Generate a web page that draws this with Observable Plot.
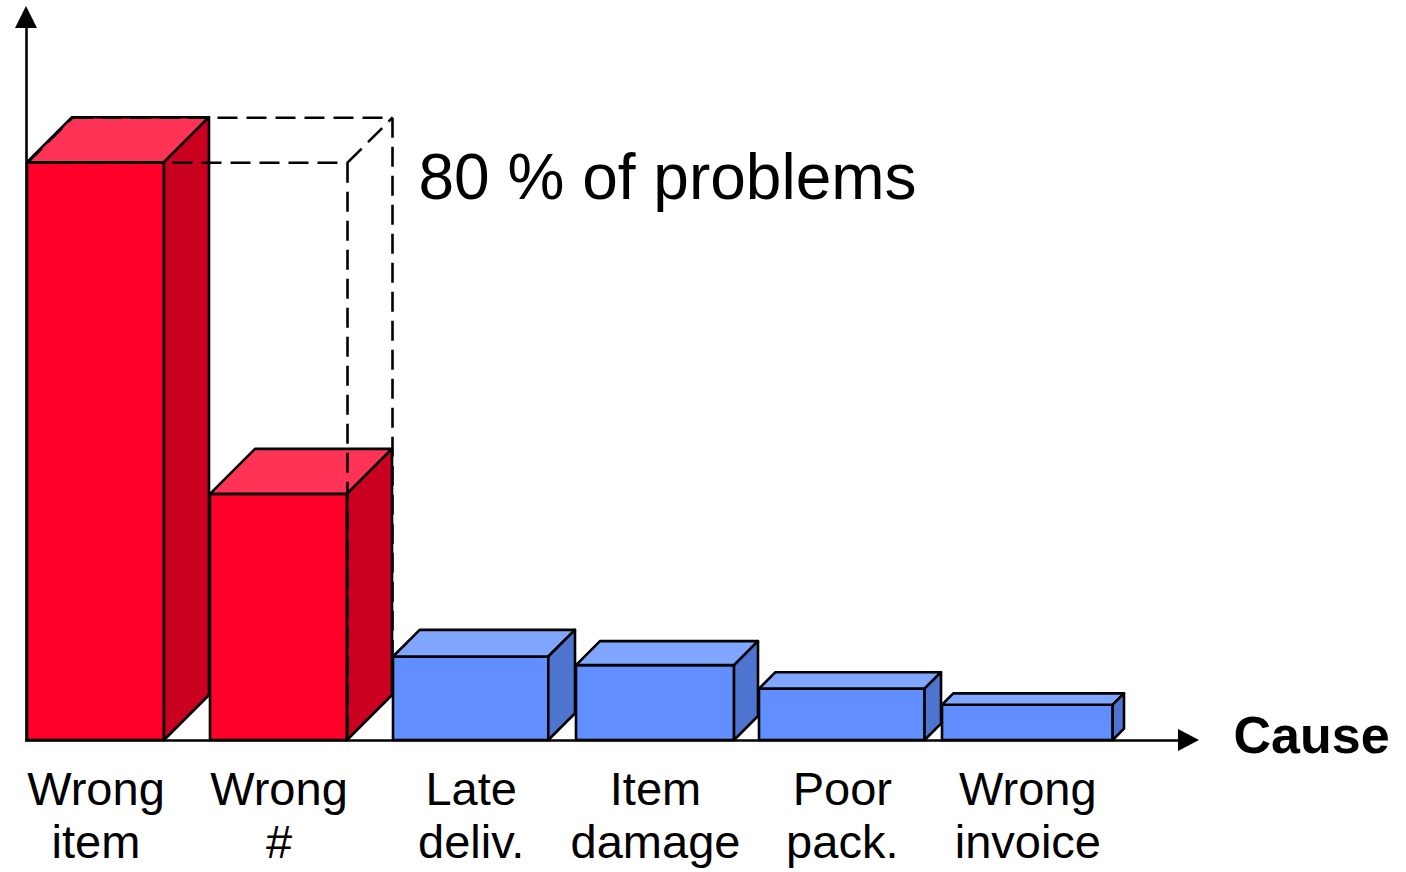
<!DOCTYPE html>
<html><head><meta charset="utf-8">
<script src="https://cdn.jsdelivr.net/npm/d3@7"></script>
<script src="https://cdn.jsdelivr.net/npm/@observablehq/plot@0.6"></script>
<style>html,body{margin:0;padding:0;background:#fff;} svg{display:block}</style>
</head><body><div id="chart"></div>
<script>
// ---- data ----
const categories = ["Wrong\nitem", "Wrong\n#", "Late\ndeliv.", "Item\ndamage", "Poor\npack.", "Wrong\ninvoice"];
const values = [54, 23, 7.8, 7, 4.8, 3.3];   // share of problems (%)
const vitalShare = 80;                        // cumulative % highlighted
const annotation = "80 % of problems";
const axisLabel = "Cause";

// ---- layout ----
const W = 1406, H = 872;
const leftPx = 27, rightPx = 1199, basePx = 740, topPx = 6;
const slotPx = 183, pxPerUnit = 10.7;
const xMax = (rightPx - leftPx) / slotPx;
const yMax = (basePx - topPx) / pxPerUnit;
const sx = px => px / slotPx;
const sy = px => px / pxPerUnit;
const SW = 2.6;
const font = "Liberation Sans, Arial, Helvetica, sans-serif";

const palette = {
  vital:   {front: "#ff0029", top: "#ff3355", side: "#c90020"},
  trivial: {front: "#618fff", top: "#80a6ff", side: "#4d75d0"}
};

let cum = 0;
const bars = categories.map((c, i) => {
  const v = values[i];
  cum += v;
  const group = cum <= vitalShare ? "vital" : "trivial";
  const d = Math.min(45, 0.32 * v * pxPerUnit);
  const x1 = i, x2 = i + sx(slotPx - d - 1);
  return {c, v, i, group, x1, x2, dx: sx(d), dy: sy(d), col: palette[group]};
});

const tops = bars.flatMap(b => [
  {k: b.i, x: b.x1,        y1: b.v,        y2: b.v,        fill: b.col.top},
  {k: b.i, x: b.x1 + b.dx, y1: b.v,        y2: b.v + b.dy, fill: b.col.top},
  {k: b.i, x: b.x2,        y1: b.v,        y2: b.v + b.dy, fill: b.col.top},
  {k: b.i, x: b.x2 + b.dx, y1: b.v + b.dy, y2: b.v + b.dy, fill: b.col.top}
]);
const sides = bars.flatMap(b => [
  {k: b.i, x: b.x2,        y1: 0,    y2: b.v,        fill: b.col.side},
  {k: b.i, x: b.x2 + b.dx, y1: b.dy, y2: b.v + b.dy, fill: b.col.side}
]);

// dashed "80 %" box spanning the vital bars, at the height of the tallest
const vital = bars.filter(b => b.group === "vital");
const bx0 = vital[0].x1, bx1 = vital[vital.length - 1].x2;
const bh = d3.max(vital, b => b.v);
const bdx = vital[0].dx, bdy = vital[0].dy;
const box = [
  {x1: bx0, y1: bh, x2: bx1, y2: bh},
  {x1: bx0 + bdx, y1: bh + bdy, x2: bx1 + bdx, y2: bh + bdy},
  {x1: bx0, y1: bh, x2: bx0 + bdx, y2: bh + bdy},
  {x1: bx1, y1: bh, x2: bx1 + bdx, y2: bh + bdy},
  {x1: bx1, y1: bh, x2: bx1, y2: 0},
  {x1: bx1 + bdx, y1: bh + bdy, x2: bx1 + bdx, y2: bdy}
];

// axis arrowheads
const ax = sx(-1);
const headV = [
  {k: "v", x: ax - sx(11), y1: yMax - sy(22), y2: yMax - sy(22)},
  {k: "v", x: ax,          y1: yMax - sy(22), y2: yMax},
  {k: "v", x: ax + sx(11), y1: yMax - sy(22), y2: yMax - sy(22)}
];
const headH = [
  {k: "h", x: xMax - sx(21), y1: sy(-11), y2: sy(11)},
  {k: "h", x: xMax,          y1: 0,       y2: 0}
];

const labelSize = 47, labelLH = 1.14, labelBaseline = 804;

const chart = Plot.plot({
  width: W, height: H,
  margin: 0,
  x: {domain: [0, xMax], range: [leftPx, rightPx], axis: null},
  y: {domain: [0, yMax], range: [basePx, topPx], axis: null},
  color: {type: "identity"},
  style: {fontFamily: font, background: "#fff"},
  marks: [
    Plot.ruleY([0], {x1: sx(-2), x2: xMax - sx(20), stroke: "black", strokeWidth: SW}),
    Plot.ruleX([ax], {y1: 0, y2: yMax - sy(21), stroke: "black", strokeWidth: SW}),
    Plot.area(headV, {x1: "x", y1: "y1", y2: "y2", z: "k", fill: "black"}),
    Plot.area(headH, {x1: "x", y1: "y1", y2: "y2", z: "k", fill: "black"}),
    Plot.rect(bars, {x1: "x1", x2: "x2", y1: 0, y2: "v", fill: d => d.col.front, stroke: "black", strokeWidth: SW}),
    Plot.area(tops, {x1: "x", y1: "y1", y2: "y2", z: "k", fill: "fill", stroke: "black", strokeWidth: SW}),
    Plot.area(sides, {x1: "x", y1: "y1", y2: "y2", z: "k", fill: "fill", stroke: "black", strokeWidth: SW}),
    Plot.link(box, {x1: "x1", y1: "y1", x2: "x2", y2: "y2", stroke: "black", strokeWidth: 2.6, strokeDasharray: "20,9"}),
    Plot.text(bars, {x: d => (d.x1 + d.x2) / 2, y: sy(-(labelBaseline - basePx - 0.71 * labelSize * labelLH)),
      text: "c", lineAnchor: "top", lineHeight: labelLH,
      fontSize: labelSize, fill: "black", fontFamily: font}),
    Plot.text([annotation], {x: sx(418 - leftPx), y: sy(basePx - 198), text: d => d, textAnchor: "start",
      lineAnchor: "bottom", fontSize: 64, fill: "black", fontFamily: font}),
    Plot.text([axisLabel], {x: sx(1233 - leftPx), y: sy(basePx - 752), text: d => d, textAnchor: "start",
      lineAnchor: "bottom", fontSize: 52, fontWeight: "bold", fill: "black", fontFamily: font})
  ]
});
document.getElementById("chart").appendChild(chart);
</script>
</body></html>
